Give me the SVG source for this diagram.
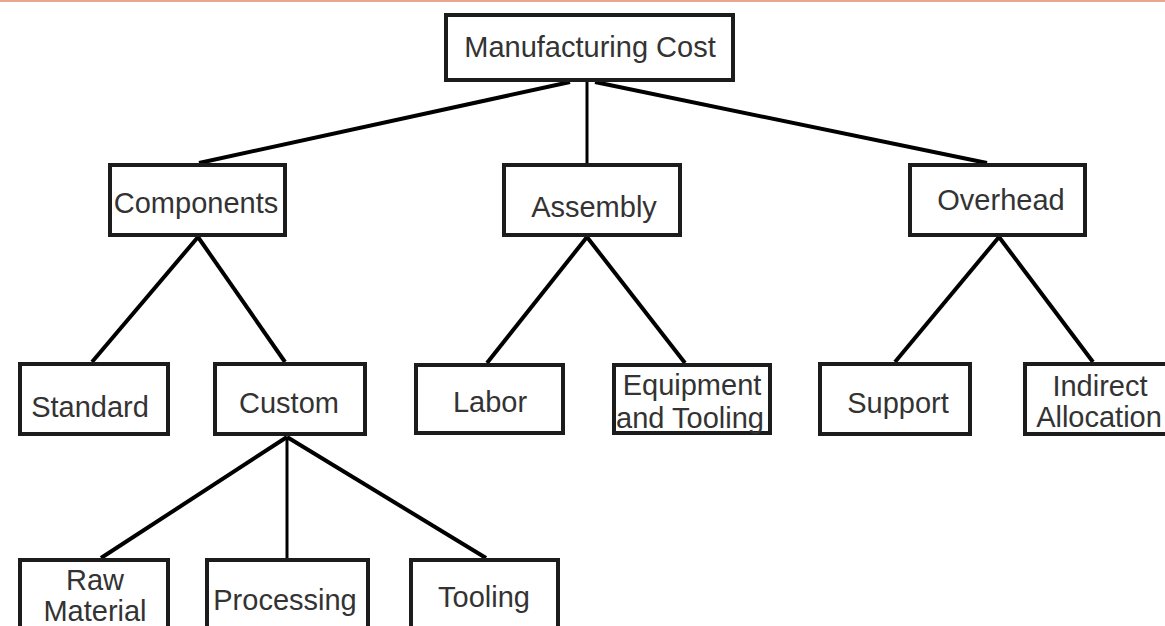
<svg xmlns="http://www.w3.org/2000/svg" width="1165" height="626" viewBox="0 0 1165 626">
<style>
.box{fill:#fff;stroke:#1c1c1c;stroke-width:4}
.lbl{font-family:"Liberation Sans",Arial,sans-serif;font-size:29px;fill:#333;text-anchor:middle}
.conn line{stroke:#000;stroke-width:4;stroke-linecap:butt}
.conn line.v{stroke-width:3}
</style>
<rect x="0" y="0" width="1165" height="626" fill="#fff"/>
<rect x="0" y="0" width="1165" height="2" fill="#eaa690"/>
<g id="connectors" class="conn">
<line x1="570" y1="82" x2="199" y2="163"/>
<line class="v" x1="587" y1="82" x2="587" y2="163"/>
<line x1="595" y1="82" x2="987" y2="163"/>
<line x1="198" y1="237" x2="92" y2="362"/>
<line x1="198" y1="237" x2="285" y2="362"/>
<line x1="587" y1="237" x2="487" y2="363"/>
<line x1="587" y1="237" x2="685" y2="363"/>
<line x1="999" y1="237" x2="895" y2="362"/>
<line x1="999" y1="237" x2="1093" y2="362"/>
<line x1="287" y1="437" x2="101" y2="558"/>
<line class="v" x1="287" y1="437" x2="287" y2="558"/>
<line x1="287" y1="437" x2="486" y2="558"/>
</g>
<g id="manufacturing-cost"><rect class="box" x="446" y="15" width="287" height="65"/><text class="lbl" x="590" y="57">Manufacturing Cost</text></g>
<g id="components"><rect class="box" x="110" y="165" width="175" height="70"/><text class="lbl" x="196" y="213">Components</text></g>
<g id="assembly"><rect class="box" x="504" y="165" width="176" height="70"/><text class="lbl" x="594" y="217">Assembly</text></g>
<g id="overhead"><rect class="box" x="910" y="165" width="175" height="70"/><text class="lbl" x="1001" y="210">Overhead</text></g>
<g id="standard"><rect class="box" x="20" y="364" width="148" height="70"/><text class="lbl" x="90" y="417">Standard</text></g>
<g id="custom"><rect class="box" x="215" y="364" width="150" height="70"/><text class="lbl" x="289" y="413">Custom</text></g>
<g id="labor"><rect class="box" x="416" y="365" width="147" height="68"/><text class="lbl" x="490" y="412">Labor</text></g>
<g id="equipment-tooling"><rect class="box" x="614" y="365" width="156" height="68"/><text class="lbl" x="692" y="395">Equipment</text><text class="lbl" x="690" y="428">and Tooling</text></g>
<g id="support"><rect class="box" x="820" y="364" width="150" height="70"/><text class="lbl" x="898" y="413">Support</text></g>
<g id="indirect-allocation"><rect class="box" x="1025" y="364" width="150" height="70"/><text class="lbl" x="1100" y="396">Indirect</text><text class="lbl" x="1099" y="427">Allocation</text></g>
<g id="raw-material"><rect class="box" x="20" y="560" width="148" height="80"/><text class="lbl" x="95" y="590">Raw</text><text class="lbl" x="95" y="621">Material</text></g>
<g id="processing"><rect class="box" x="207" y="560" width="161" height="80"/><text class="lbl" x="285" y="610">Processing</text></g>
<g id="tooling"><rect class="box" x="411" y="560" width="147" height="80"/><text class="lbl" x="484" y="607">Tooling</text></g>
</svg>
